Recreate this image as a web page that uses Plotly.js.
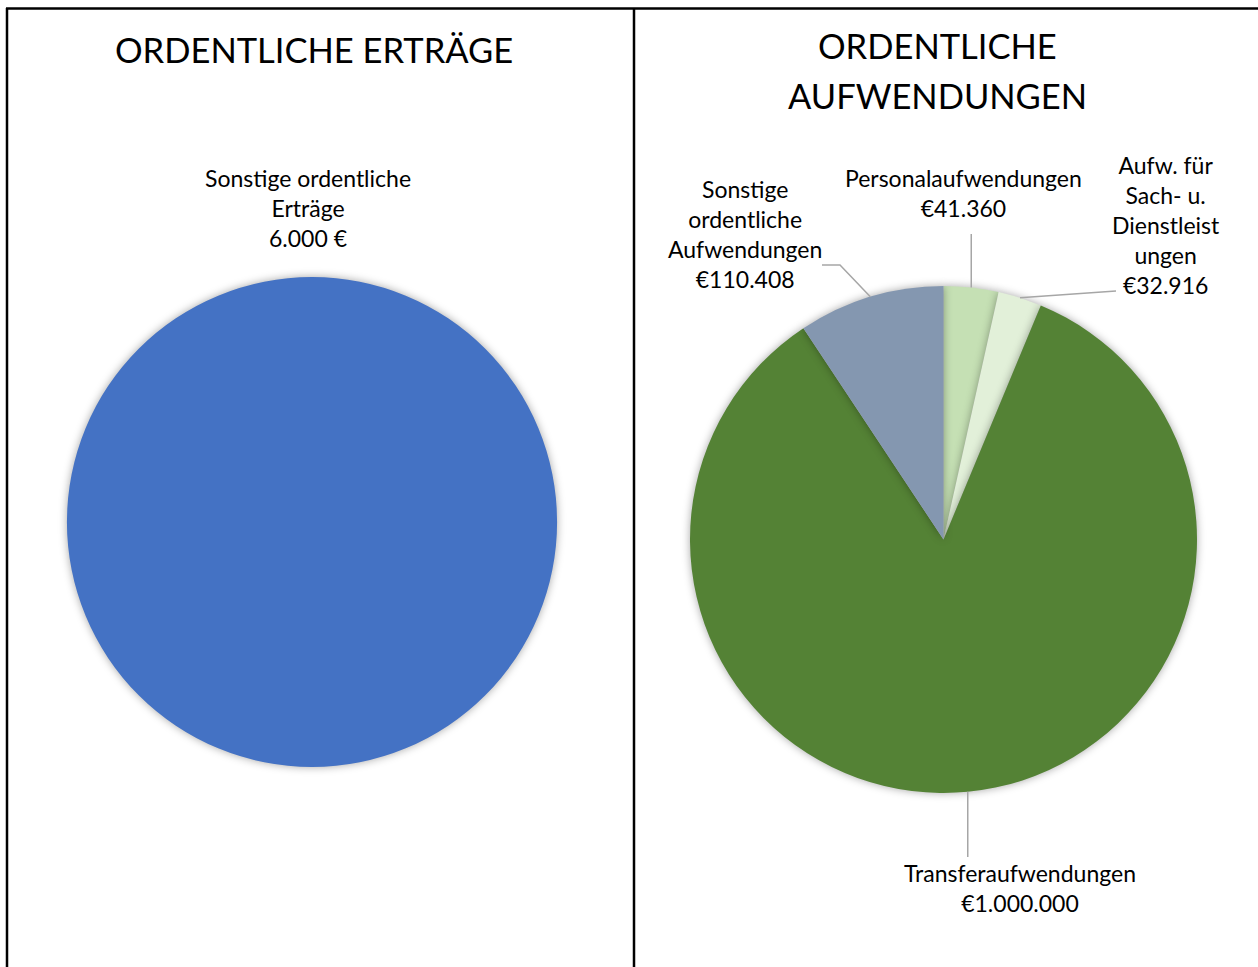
<!DOCTYPE html>
<html>
<head>
<meta charset="utf-8">
<script src="https://cdn.plot.ly/plotly-3.0.1.min.js"></script>
<style>
html,body{margin:0;padding:0;background:#fff;}
#chart{width:1258px;height:967px;}
.pielayer .slice path.surface{filter:drop-shadow(0 0 4px rgba(0,0,0,0.35));}
</style>
</head>
<body>
<div id="chart"></div>
<script>
// Data
const leftTitle = 'ORDENTLICHE ERTRÄGE';
const leftLabels = ['Sonstige ordentliche Erträge'];
const leftValues = [6000];
const leftValueText = ['6.000 €'];
const leftColors = ['#4472c4'];

const rightTitleLines = ['ORDENTLICHE', 'AUFWENDUNGEN'];
const rightLabels = ['Personalaufwendungen', 'Aufw. für Sach- u. Dienstleistungen', 'Transferaufwendungen', 'Sonstige ordentliche Aufwendungen'];
const rightLabelText = ['Personalaufwendungen', 'Aufw. für<br>Sach- u.<br>Dienstleist<br>ungen', 'Transferaufwendungen', 'Sonstige<br>ordentliche<br>Aufwendungen'];
const rightValues = [41360, 32916, 1000000, 110408];
const rightValueText = ['€41.360', '€32.916', '€1.000.000', '€110.408'];
const rightColors = ['#c5e0b4', '#e2f0d9', '#548235', '#8497b0'];

const W = 1258, H = 967;
const FONT = 'Lato, "Open Sans", sans-serif';
const px = x => x / W;
const py = y => 1 - y / H;

// Pie geometry (pixels)
const leftPie = {cx: 312, cy: 522, r: 245};
const rightPie = {cx: 943.5, cy: 539.5, r: 253.5};
const dom = p => ({x: [px(p.cx - p.r), px(p.cx + p.r)], y: [py(p.cy + p.r), py(p.cy - p.r)]});

const traces = [
  {type: 'pie', labels: leftLabels, values: leftValues, marker: {colors: leftColors, line: {width: 0}},
   textinfo: 'none', sort: false, direction: 'clockwise', rotation: 0, domain: dom(leftPie), hoverinfo: 'label+value'},
  {type: 'pie', labels: rightLabels, values: rightValues, marker: {colors: rightColors, line: {width: 0}},
   textinfo: 'none', sort: false, direction: 'clockwise', rotation: 0, domain: dom(rightPie), hoverinfo: 'label+value'}
];

// Slice mid-angle anchor points computed from the values
const total = rightValues.reduce((a, b) => a + b, 0);
let cum = 0;
const anchors = rightValues.map(v => {
  const mid = (cum + v / 2) / total * 2 * Math.PI;
  cum += v;
  return {x: rightPie.cx + rightPie.r * Math.sin(mid), y: rightPie.cy - rightPie.r * Math.cos(mid)};
});

// Label placement (pixels) and leader line ends
const labelPos = [
  {x: 964, y: 192.5, end: [[anchors[0].x, 234]]},
  {x: 1166, y: 225, end: [[1116, 291]]},
  {x: 1020, y: 888, end: [[anchors[2].x, 857]]},
  {x: 745, y: 234, end: [[840, 265], [822, 265]]}
];

const annotations = [];
const shapes = [];
const lineStyle = {color: '#a6a6a6', width: 1.5};
const titleFont = {family: FONT, size: 34.5, color: '#000'};
const labelFont = {family: FONT, size: 23, color: '#000'};

annotations.push({xref: 'paper', yref: 'paper', x: px(314), y: py(50), text: leftTitle, showarrow: false,
  font: titleFont, xanchor: 'center', yanchor: 'middle'});
rightTitleLines.forEach((t, i) => {
  annotations.push({xref: 'paper', yref: 'paper', x: px(937), y: py(46 + 49 * i), text: t, showarrow: false,
    font: titleFont, xanchor: 'center', yanchor: 'middle'});
});

annotations.push({xref: 'paper', yref: 'paper', x: px(308), y: py(207.5), text: leftLabels[0].replace(' Erträge', '<br>Erträge') + '<br>' + leftValueText[0],
  showarrow: false, font: labelFont, xanchor: 'center', yanchor: 'middle'});

rightLabelText.forEach((t, i) => {
  annotations.push({xref: 'paper', yref: 'paper', x: px(labelPos[i].x), y: py(labelPos[i].y), text: t + '<br>' + rightValueText[i],
    showarrow: false, font: labelFont, xanchor: 'center', yanchor: 'middle'});
  let pts = [[anchors[i].x, anchors[i].y]].concat(labelPos[i].end);
  let path = 'M' + pts.map(p => px(p[0]) + ',' + py(p[1])).join(' L');
  shapes.push({type: 'path', xref: 'paper', yref: 'paper', path: path, line: lineStyle});
});

// Panel borders
const border = {color: '#000', width: 2.5};
shapes.push({type: 'line', xref: 'paper', yref: 'paper', x0: px(6), x1: px(1258), y0: py(8.5), y1: py(8.5), line: border});
shapes.push({type: 'line', xref: 'paper', yref: 'paper', x0: px(7), x1: px(7), y0: py(8), y1: 0, line: border});
shapes.push({type: 'line', xref: 'paper', yref: 'paper', x0: px(634), x1: px(634), y0: py(8), y1: 0, line: border});

const layout = {
  width: W, height: H, margin: {l: 0, r: 0, t: 0, b: 0},
  paper_bgcolor: '#fff', showlegend: false,
  annotations: annotations, shapes: shapes
};

Plotly.newPlot('chart', traces, layout, {displayModeBar: false, staticPlot: true});
</script>
</body>
</html>
